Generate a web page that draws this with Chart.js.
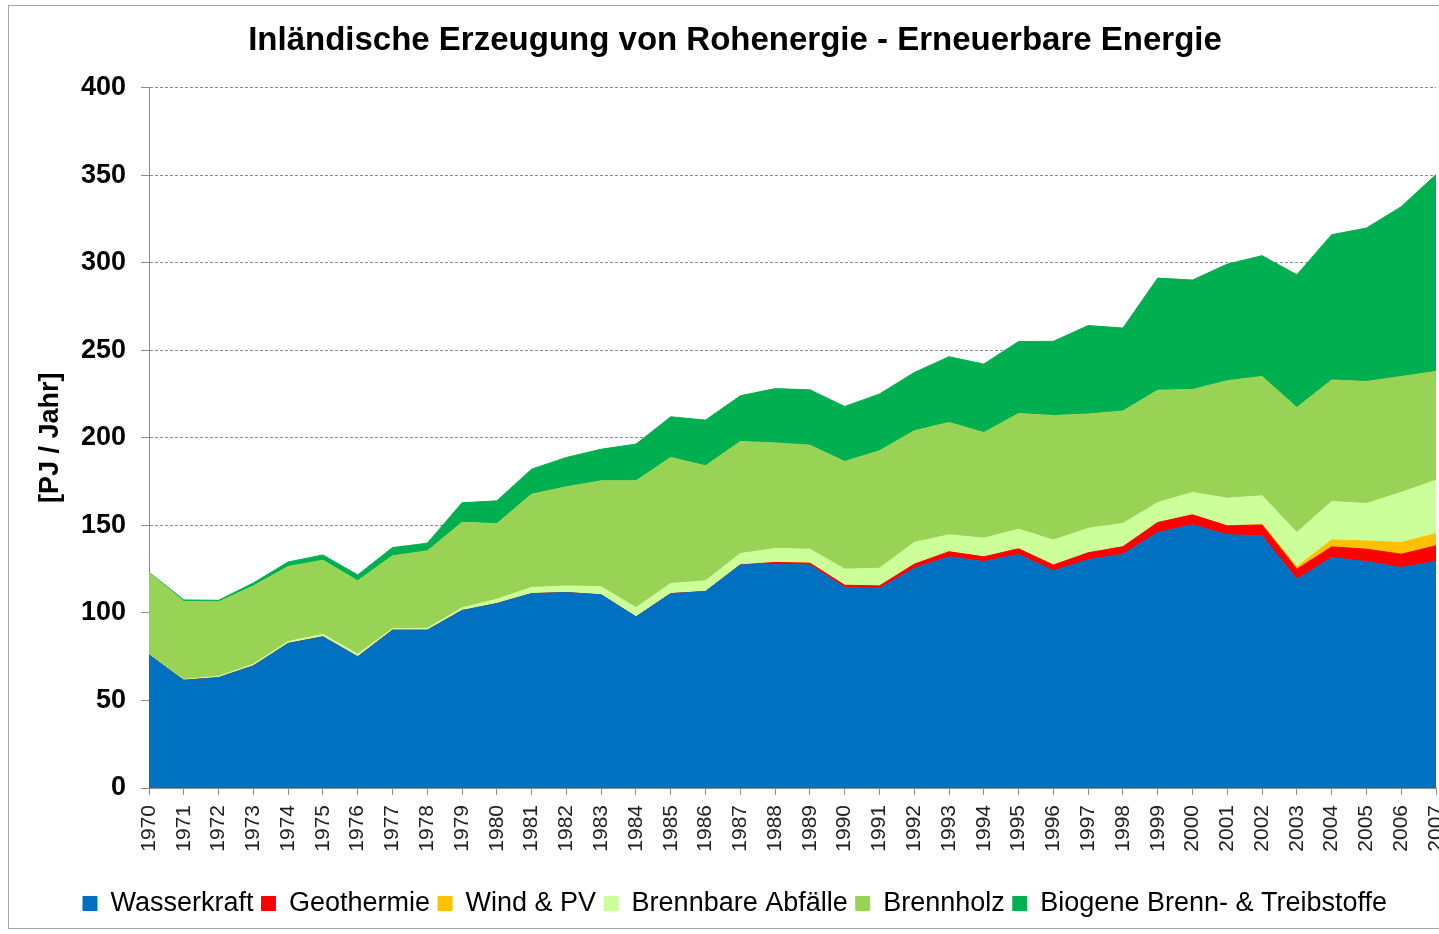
<!DOCTYPE html>
<html>
<head>
<meta charset="utf-8">
<script src="https://cdn.jsdelivr.net/npm/chart.js@4.4.1/dist/chart.umd.min.js"></script>
<style>
html, body { margin: 0; padding: 0; background: #fff; overflow: hidden; }
#wrap { position: relative; width: 1472px; height: 934px; }
</style>
</head>
<body>
<div id="wrap"><canvas id="chart"></canvas></div>
<script>
// Jahre
const years = ['1970', '1971', '1972', '1973', '1974', '1975', '1976', '1977', '1978', '1979',
    '1980', '1981', '1982', '1983', '1984', '1985', '1986', '1987', '1988', '1989',
    '1990', '1991', '1992', '1993', '1994', '1995', '1996', '1997', '1998', '1999',
    '2000', '2001', '2002', '2003', '2004', '2005', '2006', '2007'];

// PJ / Jahr
const wasserkraft = [76.0, 61.5, 63.0, 69.7, 82.5, 86.3, 74.9, 90.1, 90.1, 101.3,
    105.3, 111.0, 111.6, 110.3, 97.7, 111.0, 112.2, 127.4, 127.8, 127.4,
    114.5, 113.9, 125.5, 132.0, 129.3, 133.3, 124.0, 130.4, 133.5, 145.9,
    150.3, 144.6, 144.0, 119.2, 131.6, 129.3, 125.9, 129.3];
const geothermie = [0, 0, 0, 0, 0, 0, 0, 0, 0, 0,
    0, 0, 0, 0, 0, 0, 0, 0, 1.0, 1.0,
    1.3, 1.5, 2.3, 2.9, 2.7, 3.3, 3.3, 3.9, 4.3, 5.7,
    5.7, 5.1, 6.2, 5.8, 6.1, 7.1, 7.6, 9.0];
const windPv = [0, 0, 0, 0, 0, 0, 0, 0, 0, 0,
    0, 0, 0, 0, 0, 0, 0, 0, 0, 0,
    0, 0, 0, 0, 0, 0, 0, 0, 0, 0,
    0, 0, 0.5, 1.3, 4.0, 4.7, 6.7, 7.0];
const abfaelle = [0.2, 0.5, 0.8, 1.0, 1.1, 1.5, 1.5, 0.9, 1.1, 1.6,
    2.5, 3.5, 3.8, 4.6, 5.3, 5.8, 6.1, 6.5, 8.0, 8.0,
    9.2, 10.1, 12.4, 9.7, 10.7, 11.2, 14.3, 14.0, 13.3, 11.4,
    12.8, 15.8, 16.2, 19.6, 21.9, 21.4, 28.6, 30.5];
const brennholz = [46.8, 44.5, 42.5, 44.7, 42.9, 42.3, 41.9, 41.6, 44.2, 48.8,
    43.2, 53.3, 56.6, 60.5, 72.4, 72.0, 65.7, 64.0, 60.3, 59.4,
    61.5, 67.1, 63.8, 64.2, 60.3, 66.1, 71.1, 65.3, 64.2, 64.2,
    58.8, 67.1, 68.1, 71.4, 69.4, 69.7, 66.2, 62.1];
const biogene = [0.2, 0.9, 0.9, 1.7, 2.6, 3.0, 3.4, 4.7, 4.4, 11.2,
    13.0, 14.3, 16.8, 18.1, 21.0, 23.2, 26.1, 26.1, 31.0, 31.6,
    31.4, 32.4, 33.3, 37.5, 39.1, 41.1, 42.4, 50.5, 47.4, 64.0,
    62.5, 66.6, 69.0, 75.8, 83.0, 87.6, 97.0, 112.4];

const seriesNames = ['Wasserkraft', 'Geothermie', 'Wind & PV', 'Brennbare Abfälle', 'Brennholz', 'Biogene Brenn- & Treibstoffe'];
const seriesColors = ['#0070c0', '#ff0000', '#ffc000', '#ccff99', '#99d356', '#00b050'];
const seriesData = [wasserkraft, geothermie, windPv, abfaelle, brennholz, biogene];

const yTicks = [0, 50, 100, 150, 200, 250, 300, 350, 400];

const FONT = '"Liberation Sans", Arial, sans-serif';

// grauer Rahmen um die ganze Grafik
const framePlugin = {
    id: 'frame',
    beforeDraw(chart) {
        const ctx = chart.ctx;
        ctx.save();
        ctx.fillStyle = '#fff';
        ctx.fillRect(0, 0, chart.width, chart.height);
        ctx.strokeStyle = '#a6a6a6';
        ctx.lineWidth = 1;
        ctx.strokeRect(8.5, 5.5, chart.width - 17, chart.height - 11);
        ctx.restore();
    }
};

const datasets = seriesNames.map((name, i) => ({
    label: name,
    data: seriesData[i],
    backgroundColor: seriesColors[i],
    borderColor: seriesColors[i],
    borderWidth: 1,
    pointRadius: 0,
    tension: 0,
    fill: i === 0 ? 'origin' : '-1'
}));

new Chart(document.getElementById('chart'), {
    type: 'line',
    data: { labels: years, datasets: datasets },
    plugins: [framePlugin],
    options: {
        responsive: true,
        maintainAspectRatio: false,
        animation: false,
        layout: { padding: { left: 34, right: 36, top: 0, bottom: 7 } },
        plugins: {
            title: {
                display: true,
                text: 'Inländische Erzeugung von Rohenergie - Erneuerbare Energie',
                color: '#000',
                font: { family: FONT, size: 33, weight: 'bold' },
                padding: { top: 21, bottom: 27 }
            },
            legend: {
                position: 'bottom',
                labels: {
                    color: '#000',
                    font: { family: FONT, size: 27 },
                    boxWidth: 14,
                    boxHeight: 14,
                    padding: 8
                }
            },
            tooltip: { enabled: false }
        },
        scales: {
            x: {
                grid: { drawOnChartArea: false, drawTicks: true, tickLength: 7, color: '#8c8c8c' },
                border: { display: true, color: '#8c8c8c' },
                ticks: {
                    autoSkip: false,
                    minRotation: 90,
                    maxRotation: 90,
                    padding: 10,
                    color: '#222',
                    font: { family: FONT, size: 21 }
                },
                afterFit(scale) {
                    scale.height = 94;
                    scale.paddingLeft = 0;
                    scale.paddingRight = 0;
                }
            },
            y: {
                stacked: true,
                min: 0,
                max: 400,
                afterBuildTicks(scale) {
                    scale.ticks = yTicks.map(v => ({ value: v }));
                },
                grid: { color: '#8c8c8c', tickLength: 8, drawTicks: true },
                border: { display: true, color: '#8c8c8c', dash: [3, 2] },
                ticks: {
                    padding: 15,
                    color: '#000',
                    font: { family: FONT, size: 27, weight: 'bold' }
                },
                title: {
                    display: true,
                    text: '[PJ / Jahr]',
                    color: '#000',
                    font: { family: FONT, size: 27, weight: 'bold' },
                    padding: { top: 0, bottom: 0 }
                },
                afterFit(scale) {
                    scale.width = 115;
                }
            }
        }
    }
});
</script>
</body>
</html>
